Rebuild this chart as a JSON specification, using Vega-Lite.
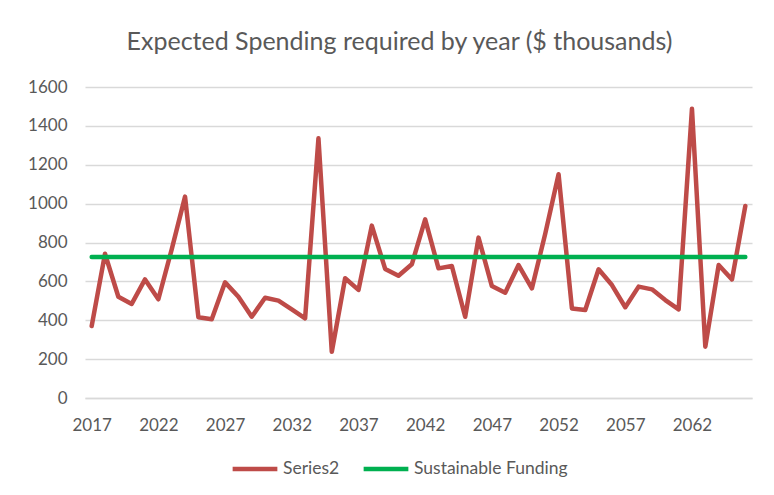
{
  "$schema": "https://vega.github.io/schema/vega-lite/v6.json",
  "width": 667,
  "height": 311,
  "autosize": {"type": "none"},
  "padding": {"left": 85, "top": 87, "right": 22, "bottom": 97},
  "background": "white",
  "title": {
    "text": "Expected Spending required by year ($ thousands)",
    "font": "Lato",
    "fontSize": 25,
    "fontWeight": "normal",
    "color": "#595959",
    "anchor": "middle",
    "dx": -19,
    "offset": 23
  },
  "data": {
    "values": [
      {"year": 2017, "Series2": 370, "Sustainable Funding": 725},
      {"year": 2018, "Series2": 742, "Sustainable Funding": 725},
      {"year": 2019, "Series2": 521, "Sustainable Funding": 725},
      {"year": 2020, "Series2": 484, "Sustainable Funding": 725},
      {"year": 2021, "Series2": 610, "Sustainable Funding": 725},
      {"year": 2022, "Series2": 508, "Sustainable Funding": 725},
      {"year": 2023, "Series2": 765, "Sustainable Funding": 725},
      {"year": 2024, "Series2": 1036, "Sustainable Funding": 725},
      {"year": 2025, "Series2": 415, "Sustainable Funding": 725},
      {"year": 2026, "Series2": 405, "Sustainable Funding": 725},
      {"year": 2027, "Series2": 595, "Sustainable Funding": 725},
      {"year": 2028, "Series2": 521, "Sustainable Funding": 725},
      {"year": 2029, "Series2": 418, "Sustainable Funding": 725},
      {"year": 2030, "Series2": 516, "Sustainable Funding": 725},
      {"year": 2031, "Series2": 501, "Sustainable Funding": 725},
      {"year": 2032, "Series2": 456, "Sustainable Funding": 725},
      {"year": 2033, "Series2": 410, "Sustainable Funding": 725},
      {"year": 2034, "Series2": 1336, "Sustainable Funding": 725},
      {"year": 2035, "Series2": 238, "Sustainable Funding": 725},
      {"year": 2036, "Series2": 616, "Sustainable Funding": 725},
      {"year": 2037, "Series2": 556, "Sustainable Funding": 725},
      {"year": 2038, "Series2": 887, "Sustainable Funding": 725},
      {"year": 2039, "Series2": 664, "Sustainable Funding": 725},
      {"year": 2040, "Series2": 629, "Sustainable Funding": 725},
      {"year": 2041, "Series2": 688, "Sustainable Funding": 725},
      {"year": 2042, "Series2": 919, "Sustainable Funding": 725},
      {"year": 2043, "Series2": 667, "Sustainable Funding": 725},
      {"year": 2044, "Series2": 679, "Sustainable Funding": 725},
      {"year": 2045, "Series2": 418, "Sustainable Funding": 725},
      {"year": 2046, "Series2": 825, "Sustainable Funding": 725},
      {"year": 2047, "Series2": 576, "Sustainable Funding": 725},
      {"year": 2048, "Series2": 542, "Sustainable Funding": 725},
      {"year": 2049, "Series2": 684, "Sustainable Funding": 725},
      {"year": 2050, "Series2": 564, "Sustainable Funding": 725},
      {"year": 2051, "Series2": 845, "Sustainable Funding": 725},
      {"year": 2052, "Series2": 1151, "Sustainable Funding": 725},
      {"year": 2053, "Series2": 461, "Sustainable Funding": 725},
      {"year": 2054, "Series2": 453, "Sustainable Funding": 725},
      {"year": 2055, "Series2": 662, "Sustainable Funding": 725},
      {"year": 2056, "Series2": 581, "Sustainable Funding": 725},
      {"year": 2057, "Series2": 467, "Sustainable Funding": 725},
      {"year": 2058, "Series2": 573, "Sustainable Funding": 725},
      {"year": 2059, "Series2": 559, "Sustainable Funding": 725},
      {"year": 2060, "Series2": 504, "Sustainable Funding": 725},
      {"year": 2061, "Series2": 456, "Sustainable Funding": 725},
      {"year": 2062, "Series2": 1488, "Sustainable Funding": 725},
      {"year": 2063, "Series2": 264, "Sustainable Funding": 725},
      {"year": 2064, "Series2": 684, "Sustainable Funding": 725},
      {"year": 2065, "Series2": 610, "Sustainable Funding": 725},
      {"year": 2066, "Series2": 988, "Sustainable Funding": 725}
    ]
  },
  "transform": [
    {"fold": ["Series2", "Sustainable Funding"], "as": ["series", "value"]}
  ],
  "mark": {"type": "line", "strokeWidth": 4.5, "strokeCap": "round", "strokeJoin": "round"},
  "encoding": {
    "x": {
      "field": "year",
      "type": "quantitative",
      "scale": {"domain": [2016.5, 2066.5], "nice": false, "zero": false},
      "axis": {
        "title": null,
        "values": [2017, 2022, 2027, 2032, 2037, 2042, 2047, 2052, 2057, 2062],
        "format": "d",
        "grid": false,
        "ticks": false,
        "domainColor": "#D9D9D9",
        "domainWidth": 1.3,
        "labelFont": "Lato",
        "labelFontSize": 17,
        "labelColor": "#595959",
        "labelPadding": 19
      }
    },
    "y": {
      "field": "value",
      "type": "quantitative",
      "scale": {"domain": [0, 1600], "nice": false},
      "axis": {
        "title": null,
        "values": [0, 200, 400, 600, 800, 1000, 1200, 1400, 1600],
        "format": "d",
        "grid": true,
        "gridColor": "#D9D9D9",
        "gridWidth": 1.3,
        "domain": false,
        "ticks": false,
        "labelFont": "Lato",
        "labelFontSize": 17,
        "labelColor": "#595959",
        "labelPadding": 18
      }
    },
    "color": {
      "field": "series",
      "type": "nominal",
      "scale": {"domain": ["Series2", "Sustainable Funding"], "range": ["#BE4B48", "#00B050"]},
      "legend": {
        "title": null,
        "orient": "none",
        "legendX": 145,
        "legendY": 357,
        "direction": "horizontal",
        "symbolType": "stroke",
        "symbolSize": 2000,
        "symbolStrokeWidth": 4.5,
        "labelFont": "Lato",
        "labelFontSize": 17.5,
        "labelColor": "#595959",
        "labelOffset": 3,
        "columnPadding": 14
      }
    }
  },
  "config": {"view": {"stroke": null}}
}
